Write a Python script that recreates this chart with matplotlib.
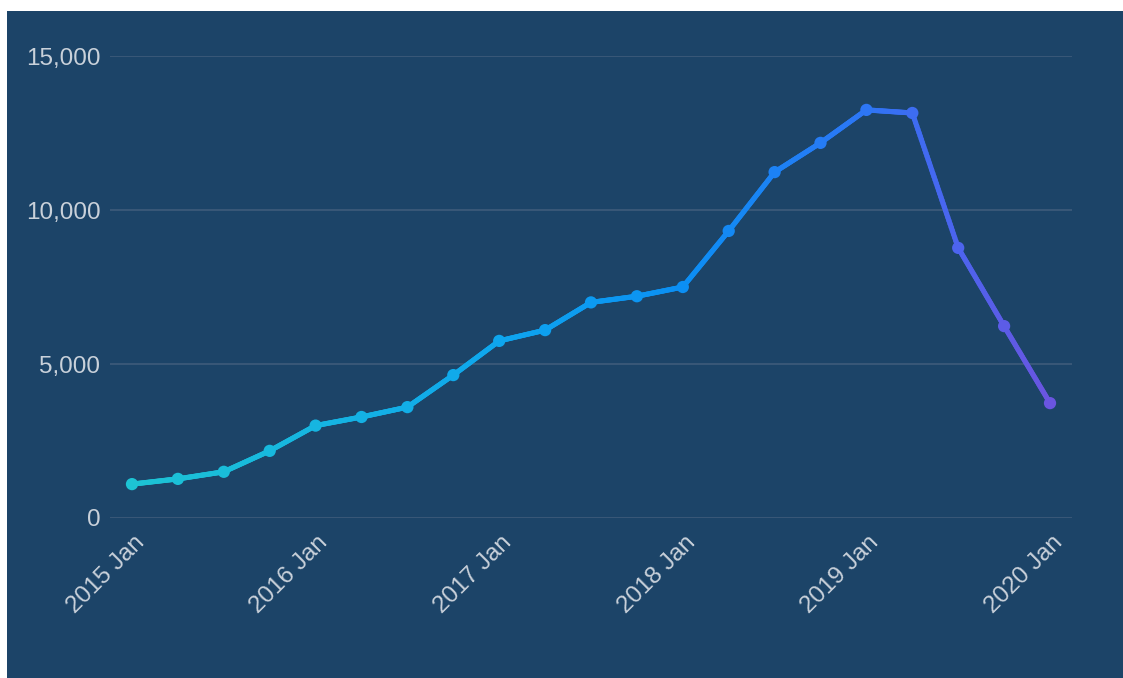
import matplotlib as mpl
mpl.use("Agg")
import matplotlib.pyplot as plt
import numpy as np
from matplotlib.collections import LineCollection
from matplotlib.colors import LinearSegmentedColormap
from matplotlib.patches import Rectangle
from matplotlib.ticker import FuncFormatter
from matplotlib.transforms import ScaledTranslation

plt.rcParams["font.family"] = ["Liberation Sans", "DejaVu Sans"]

# quarterly series, 2015 Jan .. 2020 Jan
quarters = ["2015 Jan", "2015 Apr", "2015 Jul", "2015 Oct",
            "2016 Jan", "2016 Apr", "2016 Jul", "2016 Oct",
            "2017 Jan", "2017 Apr", "2017 Jul", "2017 Oct",
            "2018 Jan", "2018 Apr", "2018 Jul", "2018 Oct",
            "2019 Jan", "2019 Apr", "2019 Jul", "2019 Oct",
            "2020 Jan"]
values = [1100, 1270, 1500, 2180, 3000, 3280, 3600, 4640, 5750, 6100,
          7000, 7200, 7500, 9320, 11230, 12180, 13250, 13150, 8770, 6230,
          3730]
yticks = [0, 5000, 10000, 15000]

BG = "#1c4468"
GRID = "#3e5b7b"
TXT = "#c9d1da"
cmap = LinearSegmentedColormap.from_list(
    "flow", [(0.0, "#1dc4d4"), (0.4, "#0ea6ee"), (0.6, "#0b8ff4"),
             (0.8, "#2d76f5"), (0.9, "#4c64ee"), (1.0, "#6a55e0")])

fig = plt.figure(figsize=(11.23, 6.78), dpi=100)
fig.patch.set_facecolor("white")
fig.patches.append(Rectangle((7 / 1123, 0), 1, 1 - 11 / 678, transform=fig.transFigure,
                             facecolor=BG, edgecolor="none", zorder=-10))
ax = fig.add_axes([110 / 1123, 1 - 518 / 678, 962 / 1123, 462 / 678])
ax.set_facecolor("none")

x = np.arange(len(values))
y = np.array(values, dtype=float)
t = x / x.max()

# line coloured along x, drawn as fine sub-segments for a smooth gradient
xs = np.linspace(0, x.max(), 800)
ys = np.interp(xs, x, y)
pts = np.column_stack([xs, ys]).reshape(-1, 1, 2)
segs = np.concatenate([pts[:-1], pts[1:]], axis=1)
lc = LineCollection(segs, colors=cmap(xs[:-1] / x.max()), linewidths=3.7,
                    capstyle="round", zorder=3)
ax.add_collection(lc)
ax.scatter(x, y, s=78, c=cmap(t), edgecolors="none", zorder=4)

ax.set_xlim(-0.479, x.max() + 0.479)
ax.set_ylim(0, 15000)
ax.set_yticks(yticks)
ax.yaxis.set_major_formatter(FuncFormatter(lambda v, _: f"{int(v):,}"))
ax.grid(axis="y", color=GRID, lw=1.2)
ax.set_axisbelow(True)
for s in ax.spines.values():
    s.set_visible(False)

ax.set_xticks(x[::4])
ax.set_xticklabels(quarters[::4])
ax.tick_params(length=0, labelsize=17.5, colors=TXT)
ax.tick_params(axis="y", pad=7)
ax.tick_params(axis="x", pad=0)
off = ScaledTranslation(0.09, -0.21, fig.dpi_scale_trans)
for lab in ax.get_xticklabels():
    lab.set_rotation(45)
    lab.set_ha("right")
    lab.set_va("center")
    lab.set_rotation_mode("anchor")
    lab.set_transform(lab.get_transform() + off)

fig.savefig("out.png", dpi=100)
